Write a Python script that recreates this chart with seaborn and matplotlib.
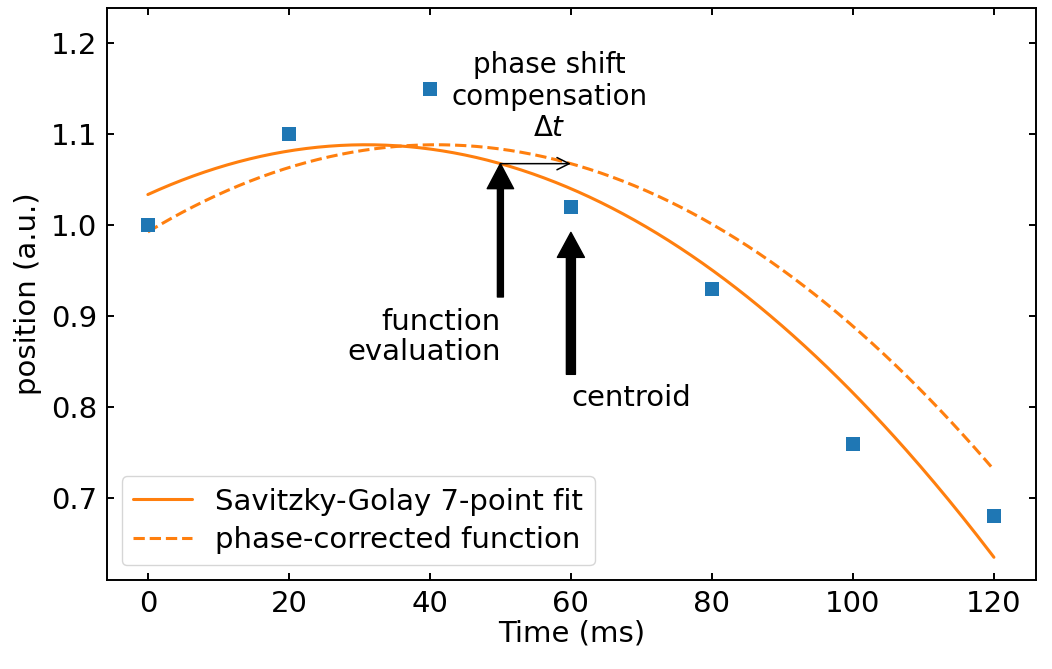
import numpy as np
import pandas as pd
import matplotlib
matplotlib.use("Agg")
import matplotlib.pyplot as plt
import seaborn as sns

# data
time_ms = [0, 20, 40, 60, 80, 100, 120]
position = [1.00, 1.10, 1.15, 1.02, 0.93, 0.76, 0.68]
phase_shift_ms = 10  # delta t
fit_order = 2
x_ticks = [0, 20, 40, 60, 80, 100, 120]
y_ticks = [0.7, 0.8, 0.9, 1.0, 1.1, 1.2]

sns.set_theme(style="ticks")
plt.rcParams['font.family'] = ['DejaVu Sans']
plt.rcParams['mathtext.fontset'] = 'dejavusans'
plt.rcParams['text.color'] = 'black'
plt.rcParams['axes.labelcolor'] = 'black'
plt.rcParams['xtick.color'] = 'black'
plt.rcParams['ytick.color'] = 'black'

FS = 21
fig = plt.figure(figsize=(10.52, 6.69), dpi=100)
ax = fig.add_axes([0.1017, 0.133, 0.985 - 0.1017, 0.988 - 0.133])

# Savitzky-Golay style polynomial fit of the 7 points
coef = np.polyfit(time_ms, position, fit_order)
xs = np.linspace(min(time_ms), max(time_ms), 300)
fit_df = pd.DataFrame({"t": xs, "fit": np.polyval(coef, xs),
                       "corrected": np.polyval(coef, xs - phase_shift_ms)})

sns.lineplot(data=fit_df, x="t", y="fit", ax=ax, color="#ff7f0e", lw=2.2,
             label="Savitzky-Golay 7-point fit")
sns.lineplot(data=fit_df, x="t", y="corrected", ax=ax, color="#ff7f0e", lw=2.2,
             ls=(0, (3.7, 1.6)), label="phase-corrected function")
sns.scatterplot(x=time_ms, y=position, ax=ax, marker="s", s=115, color="#1f77b4",
                linewidth=0, legend=False, zorder=3)

ax.set_xlim(-5.8, 126)
ax.set_ylim(0.61, 1.2385)
ax.set_xticks(x_ticks)
ax.set_yticks(y_ticks)
ax.set_xticklabels([str(v) for v in x_ticks])
ax.set_yticklabels([f"{v:.1f}" for v in y_ticks])
ax.tick_params(direction="in", top=True, right=True, length=5, width=1.4,
               labelsize=FS, pad=7, color="black", labelcolor="black")
for s in ax.spines.values():
    s.set_visible(True)
    s.set_linewidth(1.4)
    s.set_color("black")
ax.set_xlabel("Time (ms)", fontsize=FS, labelpad=1, color="black")
ax.set_ylabel("position (a.u.)", fontsize=FS, labelpad=6, color="black")

# annotations
t_eval = 50
t_cent = 60
y_eval = np.polyval(coef, t_eval)
ax.annotate("", xy=(t_eval + phase_shift_ms, y_eval), xytext=(t_eval, y_eval),
            arrowprops=dict(arrowstyle="->", color="black", lw=1.1,
                            mutation_scale=22, shrinkA=0, shrinkB=0))
ax.text(57, 1.141, "phase shift\ncompensation\n$\\Delta t$", ha="center", va="center",
        fontsize=20, linespacing=1.15, color="black")

ax.annotate("", xy=(t_eval, y_eval), xytext=(t_eval, 0.921),
            arrowprops=dict(facecolor="black", edgecolor="black", width=4.3,
                            headwidth=19, headlength=18, shrink=0))
ax.text(t_eval, 0.877, "function\nevaluation", ha="right", va="center",
        multialignment="right", fontsize=FS, linespacing=1.1, color="black")

ax.annotate("", xy=(t_cent, 0.992), xytext=(t_cent, 0.836),
            arrowprops=dict(facecolor="black", edgecolor="black", width=6.5,
                            headwidth=19.5, headlength=18, shrink=0))
ax.text(t_cent + 0.1, 0.81, "centroid", ha="left", va="center", fontsize=FS,
        color="black")

leg = ax.legend(loc="lower left", fontsize=FS, frameon=True, fancybox=True,
                handlelength=2.0, borderaxespad=0.5, borderpad=0.4,
                labelspacing=0.35, handletextpad=0.8)
leg.get_frame().set_edgecolor("#cccccc")
leg.get_frame().set_linewidth(1.0)
for t in leg.get_texts():
    t.set_color("black")

fig.savefig("out.png", dpi=100)
